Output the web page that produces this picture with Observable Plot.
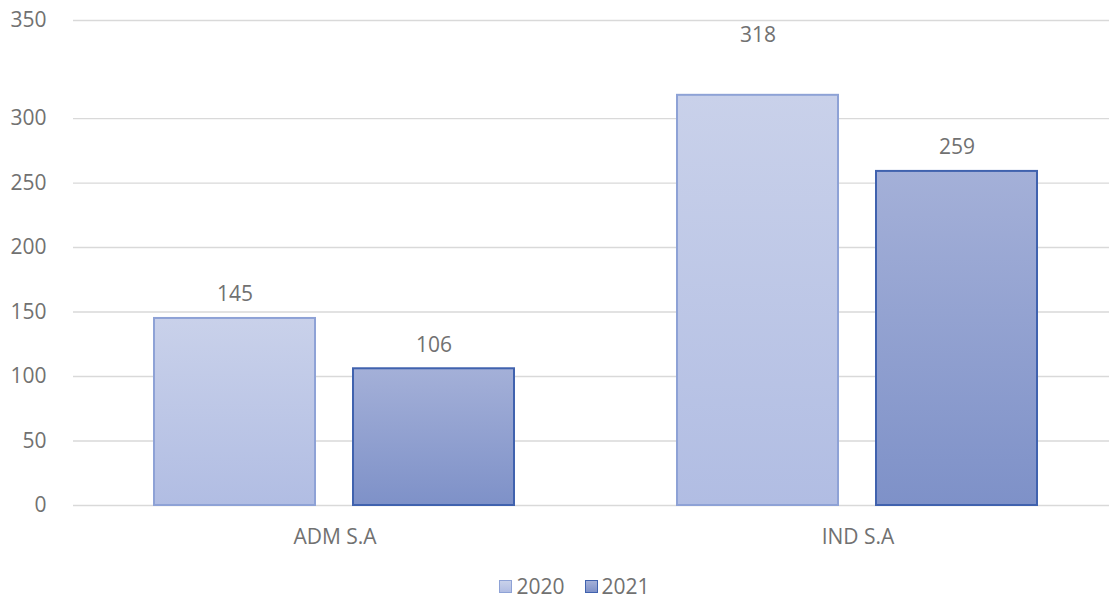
<!DOCTYPE html>
<html>
<head>
<meta charset="utf-8">
<script src="https://cdn.jsdelivr.net/npm/d3@7"></script>
<script src="https://cdn.jsdelivr.net/npm/@observablehq/plot@0.6"></script>
<style>
  html, body { margin: 0; padding: 0; background: #fff; overflow: hidden; }
  #chart { width: 1109px; height: 599px; overflow: hidden; font-family: "Open Sans", sans-serif; }
  #chart svg { display: block; max-width: none !important; width: 1119px !important; height: 574px !important; }
  .legend { box-sizing: border-box; width: 1109px; padding-left: 40px; display: flex; justify-content: center; align-items: center; gap: 20px; height: 25px; line-height: 25px; font-size: 21px; color: #717171; }
  .legend .item { display: flex; align-items: center; gap: 4px; line-height: 25px; }
  .legend .sw { width: 11px; height: 11px; border: 1.5px solid; }
</style>
</head>
<body>
<div id="chart"></div>
<script>
const categories = ["ADM S.A", "IND S.A"];
const years = ["2020", "2021"];
const values2020 = [145, 318];
const values2021 = [106, 259];
const yTicks = [0, 50, 100, 150, 200, 250, 300, 376];
const yTickLabels = ["0", "50", "100", "150", "200", "250", "300", "350"];
const yMax = 376;

const fills = ["url(#g2020)", "url(#g2021)"];
const strokes = ["#8ea2d6", "#4062ae"];

const rows = [];
categories.forEach((c, i) => {
  rows.push({category: c, year: years[0], value: values2020[i]});
  rows.push({category: c, year: years[1], value: values2021[i]});
});

const gray = "#717171";

const plot = Plot.plot({
  width: 1119,
  height: 574,
  marginLeft: 72,
  marginRight: 0,
  marginTop: 20,
  marginBottom: 69,
  style: {fontFamily: "Open Sans, sans-serif", fontSize: "21px", color: gray, background: "white"},
  fx: {domain: categories, padding: 0, label: null},
  x: {domain: years, paddingInner: 0.19, paddingOuter: 0.404, axis: null},
  y: {domain: [0, yMax], axis: null},
  marks: [
    Plot.gridY(yTicks, {stroke: "#d9d9d9", strokeOpacity: 1, strokeWidth: 1.3}),
    Plot.axisY(yTicks, {tickSize: 0, tickPadding: 27, fontSize: 21, fill: gray, tickFormat: (d) => yTickLabels[yTicks.indexOf(d)], label: null}),
    Plot.axisFx({anchor: "bottom", tickSize: 0, tickPadding: 24, fontSize: 21, fill: gray, label: null, style: {letterSpacing: "1.8px"}}),
    ...years.map((yr, k) => Plot.barY(rows.filter(d => d.year === yr), {
      fx: "category", x: "year", y: "value",
      fill: fills[k], stroke: strokes[k], strokeWidth: 2
    })),
    Plot.text(rows.filter(d => d.value <= 300), {
      fx: "category", x: "year", y: "value", text: d => String(d.value),
      dy: -24, fontSize: 21, fill: gray
    }),
    Plot.text(rows.filter(d => d.value > 300), {
      fx: "category", x: "year", text: d => String(d.value),
      frameAnchor: "top", dy: 7, fontSize: 21, fill: gray
    })
  ]
});

// gradients
const ns = "http://www.w3.org/2000/svg";
const defs = document.createElementNS(ns, "defs");
const grads = [["g2020", "#c9d1ea", "#b1bde3"], ["g2021", "#a4b0d8", "#7e91c8"]];
for (const [id, c0, c1] of grads) {
  const lg = document.createElementNS(ns, "linearGradient");
  lg.setAttribute("id", id);
  lg.setAttribute("x1", "0"); lg.setAttribute("y1", "0");
  lg.setAttribute("x2", "0"); lg.setAttribute("y2", "1");
  const s0 = document.createElementNS(ns, "stop");
  s0.setAttribute("offset", "0"); s0.setAttribute("stop-color", c0);
  const s1 = document.createElementNS(ns, "stop");
  s1.setAttribute("offset", "1"); s1.setAttribute("stop-color", c1);
  lg.appendChild(s0); lg.appendChild(s1);
  defs.appendChild(lg);
}
plot.insertBefore(defs, plot.firstChild);

const chart = document.getElementById("chart");
chart.appendChild(plot);

const legend = document.createElement("div");
legend.className = "legend";
years.forEach((yr, k) => {
  const item = document.createElement("div");
  item.className = "item";
  const sw = document.createElement("span");
  sw.className = "sw";
  sw.style.background = `linear-gradient(${grads[k][1]}, ${grads[k][2]})`;
  sw.style.borderColor = strokes[k];
  const t = document.createElement("span");
  t.textContent = yr;
  item.appendChild(sw); item.appendChild(t);
  legend.appendChild(item);
});
chart.appendChild(legend);
</script>
</body>
</html>
